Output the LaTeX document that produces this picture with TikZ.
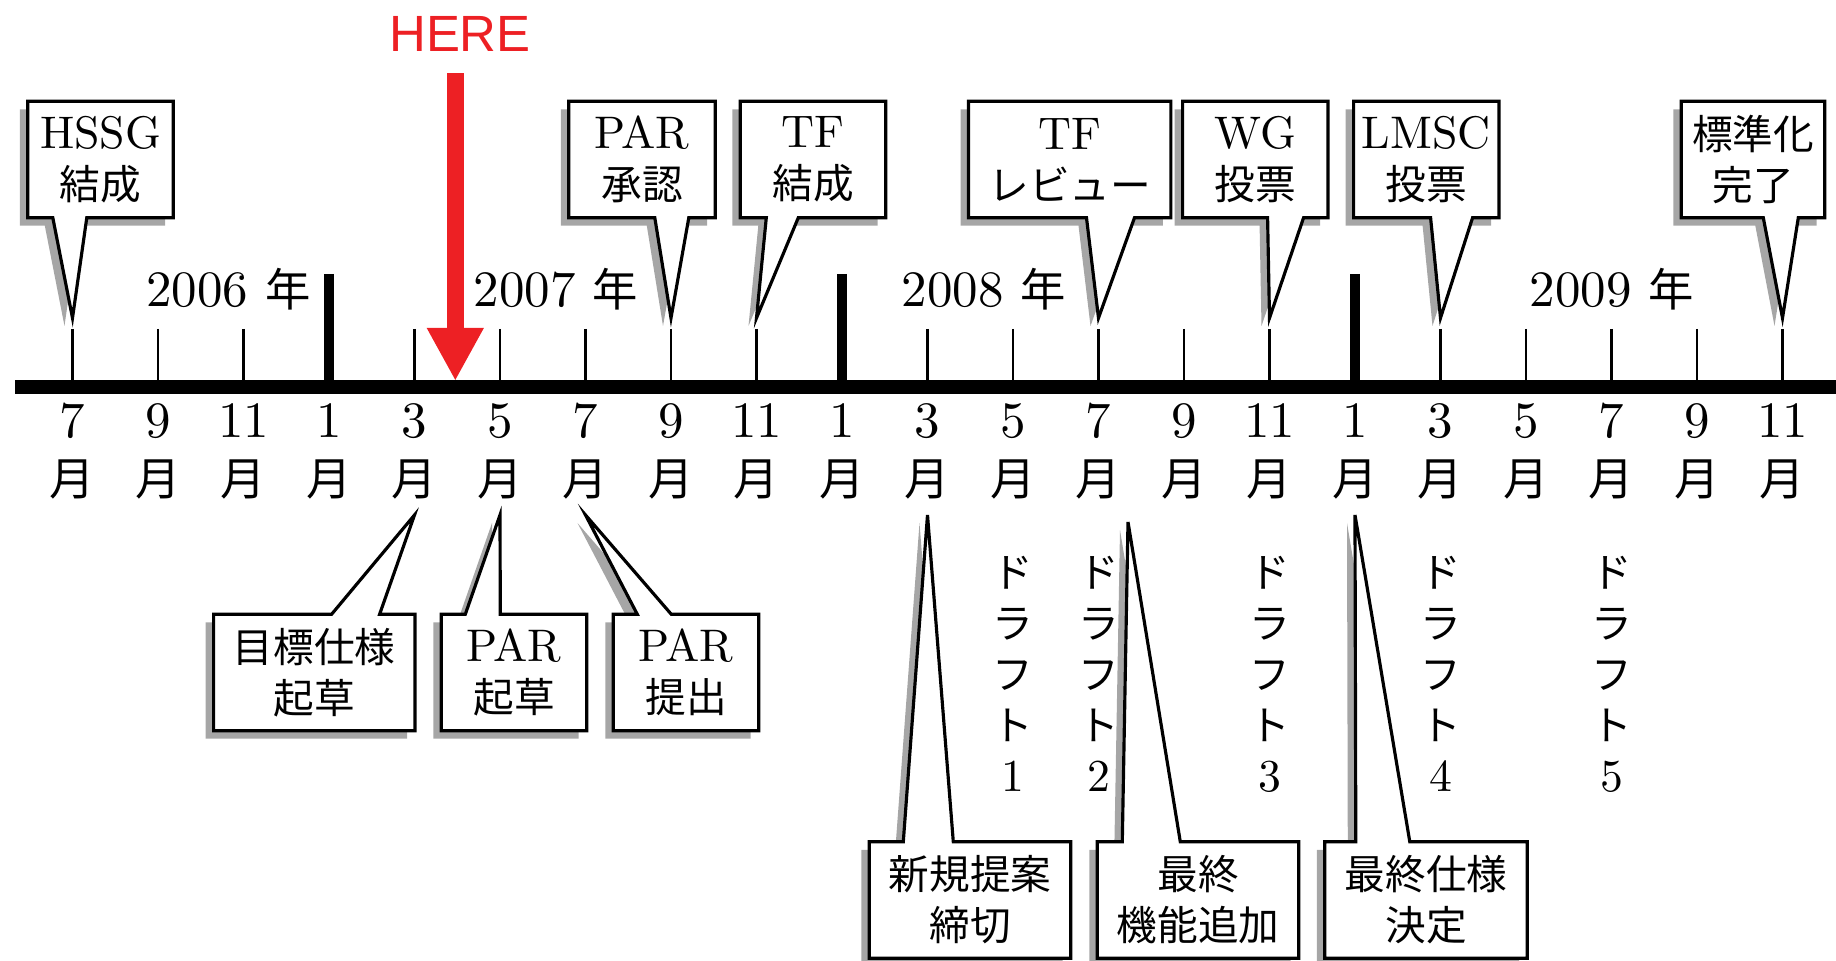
\documentclass[tikz,border=0pt]{standalone}
\usepackage{fontspec}
\setmainfont{lmroman10-regular.otf}
\newfontfamily\jpfont{Noto Sans CJK JP}[Scale=0.89]
\newfontfamily\herefont{Liberation Sans}
\usetikzlibrary{calc,backgrounds,shadows,arrows.meta}
\definecolor{herered}{RGB}{237,32,36}
\newcommand{\jp}[1]{{\jpfont #1}}
% balloon frame: node, pointer side, other side, pointer base (from west), tip
\newcommand{\balloon}[6]{%
  \begin{scope}[on background layer]
    \draw[balloonline] (#1.#2 west) -- ($(#1.#2 west)+(#4,0)$) -- (#6)
      -- ($(#1.#2 west)+(#5,0)$) -- (#1.#2 east) -- (#1.#3 east) -- (#1.#3 west) -- cycle;
  \end{scope}}

\begin{document}
\begin{tikzpicture}[x=0.1mm, y=-0.1mm,
    font=\fontsize{13}{14.5}\selectfont,
    axislabel/.style={font=\fontsize{14.5}{16}\selectfont},
    callbox/.style={minimum width=#1, minimum height=11.5mm, inner sep=0pt, align=center},
    balloonline/.style={draw=black, line width=0.9pt, fill=white,
      drop shadow={shadow xshift=-0.8mm, shadow yshift=-0.8mm, fill=black!35, opacity=1}},
    herearrow/.style={herered, line width=1.7mm, shorten <=2.1mm,
      -{Triangle[width=5.3mm, length=5.3mm]}}]
    \useasboundingbox (0,0) rectangle (1836,961);

    % Time axis
    \draw[line width=1.4mm] (15,387) -- (1836,387);
    \foreach \m [count=\i from 0] in {7,9,11,1,3,5,7,9,11,1,3,5,7,9,11,1,3,5,7,9,11} {
        \pgfmathsetmacro\tx{72.5+85.5*\i}
        \draw[line width=0.6pt] (\tx,329) -- (\tx,381);
        \coordinate (top\i) at (\tx,318);
        \coordinate (bot\i) at (\tx,515);
        \node[axislabel] (num\i) at (\tx,421) {\m};
        \node[axislabel] (mon\i) at (\tx,479) {\jp{月}};
    }
    \foreach \i in {3,9,15}
        \draw[line width=1mm] ({72.5+85.5*\i},274) -- ({72.5+85.5*\i},381);

    % Years
    \node[axislabel] (yr2006) at (228.6,289) {2006 \jp{年}};
    \node[axislabel] (yr2007) at (556,289) {2007 \jp{年}};
    \node[axislabel] (yr2008) at (984,289) {2008 \jp{年}};
    \node[axislabel] (yr2009) at (1612,289) {2009 \jp{年}};

    % Current position
    \node[font=\herefont\fontsize{14.5}{16}\selectfont, text=herered, inner sep=0pt] (here) at (460,34) {HERE};
    \coordinate (nowpt) at (455.3,381);
    \draw[herearrow] (here.south -| nowpt) -- (nowpt);

    % Events above the axis
    \node[callbox=14.4mm] (hssg) at (100.5,159.5) {HSSG\\\jp{結成}};
    \node[callbox=14.5mm] (parok) at (642,159.5) {PAR\\\jp{承認}};
    \node[callbox=14.4mm] (tfform) at (813,159.5) {TF\\\jp{結成}};
    \node[callbox=20.1mm] (tfrev) at (1069.7,159.5) {TF\\\jp{レビュー}};
    \node[callbox=14.4mm] (wgvote) at (1255.3,159.5) {WG\\\jp{投票}};
    \node[callbox=14.4mm] (lmscvote) at (1426.3,159.5) {LMSC\\\jp{投票}};
    \node[callbox=14.2mm] (stddone) at (1753,159.5) {\jp{標準化}\\\jp{完了}};

    \balloon{hssg}{south}{north}{25}{59}{top0}
    \balloon{parok}{south}{north}{86}{120}{top7}
    \balloon{tfform}{south}{north}{26}{58}{top8}
    \balloon{tfrev}{south}{north}{118}{166}{top12}
    \balloon{wgvote}{south}{north}{85}{121}{top14}
    \balloon{lmscvote}{south}{north}{77}{119}{top16}
    \balloon{stddone}{south}{north}{82}{117}{top20}

    % Events below the axis
    \node[callbox=20mm] (specdraft) at (314.3,672.5) {\jp{目標仕様}\\\jp{起草}};
    \node[callbox=14.4mm] (pardraft) at (514,672.5) {PAR\\\jp{起草}};
    \node[callbox=14.4mm] (parsub) at (686,672.5) {PAR\\\jp{提出}};
    \node[callbox=20mm] (newprop) at (970,900) {\jp{新規提案}\\\jp{締切}};
    \node[callbox=20mm] (lastfeat) at (1198,900) {\jp{最終}\\\jp{機能追加}};
    \node[callbox=20.1mm] (lastspec) at (1426,900) {\jp{最終仕様}\\\jp{決定}};
    \coordinate (featpt) at (1128,522);

    \balloon{specdraft}{north}{south}{118}{166}{bot4}
    \balloon{pardraft}{north}{south}{24}{59}{bot5}
    \balloon{parsub}{north}{south}{24}{58}{bot6}
    \balloon{newprop}{north}{south}{34}{84}{bot10}
    \balloon{lastfeat}{north}{south}{25}{83}{featpt}
    \balloon{lastspec}{north}{south}{31}{85}{bot15}

    % Drafts
    \foreach \i/\n in {11/1,12/2,14/3,16/4,18/5}
        \node[align=center] (draft\n) at ({72.5+85.5*\i},674) {\jp{ド}\\\jp{ラ}\\\jp{フ}\\\jp{ト}\\\n};
\end{tikzpicture}
\end{document}
